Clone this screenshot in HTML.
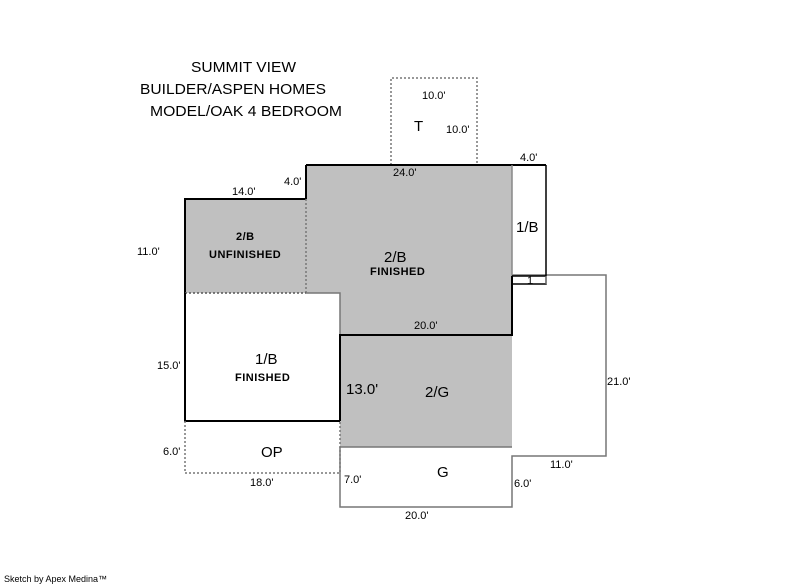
<!DOCTYPE html>
<html><head><style>
html,body{margin:0;padding:0;background:#fff;}
svg{display:block;}
text{font-family:"Liberation Sans",Arial,sans-serif;fill:#000;}
.s{font-size:11px;}
.m{font-size:15px;}
.b{font-size:11px;font-weight:bold;letter-spacing:0.5px;}
</style></head><body>
<svg width="800" height="587" viewBox="0 0 800 587" xmlns="http://www.w3.org/2000/svg">
<rect x="185" y="199" width="121" height="94" fill="#c0c0c0"/>
<polygon points="306,165 512,165 512,335 340,335 340,293 306,293" fill="#c0c0c0"/>
<rect x="340" y="335" width="172" height="112" fill="#c0c0c0"/>
<path d="M391,165 V78 H477 V165" fill="none" stroke="#777" stroke-width="1.5" stroke-dasharray="2,2"/>
<path d="M340,447 V507 H512 V456 H606 V275 H512" fill="none" stroke="#777" stroke-width="1.5"/>
<path d="M185,293 V199 H306" fill="none" stroke="#000" stroke-width="2"/>
<path d="M306,199 V165" fill="none" stroke="#000" stroke-width="2"/>
<path d="M306,165 H546" fill="none" stroke="#000" stroke-width="2"/>
<path d="M306,199 V293" fill="none" stroke="#777" stroke-width="1.5" stroke-dasharray="2,2"/>
<path d="M185,293 H306" fill="none" stroke="#555" stroke-width="1.5" stroke-dasharray="2,2"/>
<path d="M306,293 H340 V335" fill="none" stroke="#777" stroke-width="1.5"/>
<path d="M512,165 V276" fill="none" stroke="#888" stroke-width="1.5"/>
<path d="M512,276 V335 H340 V421" fill="none" stroke="#000" stroke-width="2"/>
<path d="M546,165 V284 H512 M512,276 H546" fill="none" stroke="#000" stroke-width="1.5"/>
<path d="M546,284 V276" stroke="#888" stroke-width="1"/>
<path d="M185,293 V421 H340" fill="none" stroke="#000" stroke-width="2"/>
<path d="M185,421 V473 H340 V421" fill="none" stroke="#777" stroke-width="1.5" stroke-dasharray="2,2"/>
<path d="M340,447 H512" stroke="#777" stroke-width="1.5"/>
<text x="191" y="72" style="font-size:15px" textLength="105" lengthAdjust="spacingAndGlyphs">SUMMIT VIEW</text>
<text x="140" y="94" style="font-size:15px" textLength="186" lengthAdjust="spacingAndGlyphs">BUILDER/ASPEN HOMES</text>
<text x="150" y="116" style="font-size:15px" textLength="192" lengthAdjust="spacingAndGlyphs">MODEL/OAK 4 BEDROOM</text>
<text class="s" x="422" y="99">10.0'</text>
<text class="m" x="414" y="131">T</text>
<text class="s" x="446" y="133">10.0'</text>
<text class="s" x="520" y="161">4.0'</text>
<text class="s" x="393" y="176">24.0'</text>
<text class="s" x="284" y="185">4.0'</text>
<text class="s" x="232" y="195">14.0'</text>
<text class="s" x="137" y="255">11.0'</text>
<text class="b" x="236" y="240">2/B</text>
<text class="b" x="209" y="258">UNFINISHED</text>
<text class="m" x="384" y="262">2/B</text>
<text class="b" x="370" y="275">FINISHED</text>
<text class="m" x="516" y="232">1/B</text>
<text class="s" x="527" y="284">1</text>
<text class="s" x="414" y="329">20.0'</text>
<text class="s" x="157" y="369">15.0'</text>
<text class="m" x="255" y="364">1/B</text>
<text class="b" x="235" y="381">FINISHED</text>
<text class="m" x="346" y="394">13.0'</text>
<text class="m" x="425" y="397">2/G</text>
<text class="s" x="607" y="385">21.0'</text>
<text class="s" x="163" y="455">6.0'</text>
<text class="m" x="261" y="457">OP</text>
<text class="m" x="437" y="477">G</text>
<text class="s" x="550" y="468">11.0'</text>
<text class="s" x="344" y="483">7.0'</text>
<text class="s" x="514" y="487">6.0'</text>
<text class="s" x="250" y="486">18.0'</text>
<text class="s" x="405" y="519">20.0'</text>
<text x="4" y="582" style="font-size:9px">Sketch by Apex Medina™</text>
</svg>
</body></html>
